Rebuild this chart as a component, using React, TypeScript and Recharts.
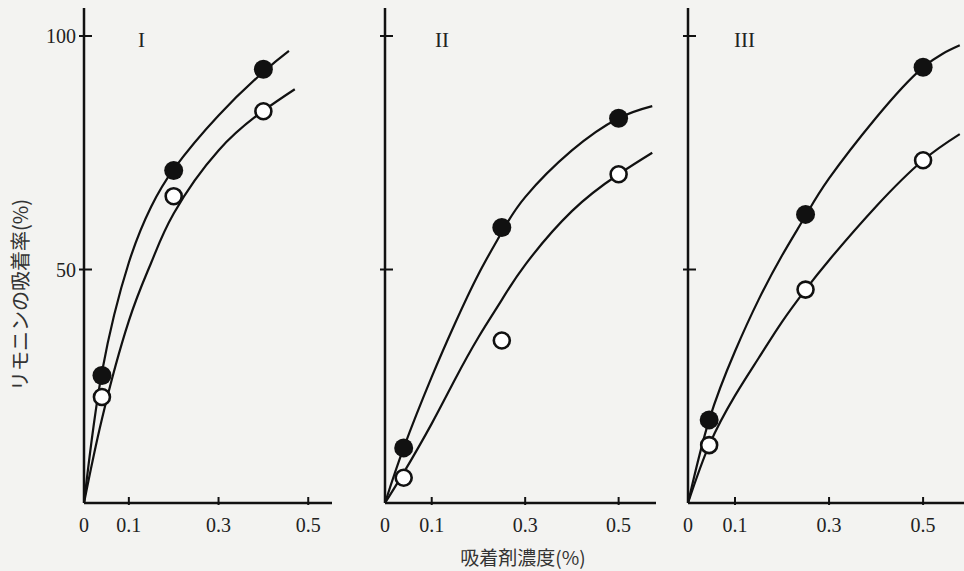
import { ComposedChart, Line, Scatter, XAxis, YAxis } from 'recharts';

// measured points (x = adsorbent %, y = limonin adsorption %)
const doseI = [0.04, 0.2, 0.4];
const filledI = [27.3, 71.2, 92.9];
const openI = [22.7, 65.7, 83.9];

const doseII = [0.04, 0.25, 0.5];
const filledII = [11.8, 59.0, 82.4];
const openII = [5.4, 34.8, 70.4];

const doseIII = [0.045, 0.25, 0.5];
const filledIII = [17.8, 61.8, 93.3];
const openIII = [12.4, 45.7, 73.4];

// fitted curves
const curveXI = [0, 0.04, 0.1, 0.15, 0.2, 0.3, 0.4, 0.457];
const curveFilledI = [0, 28, 51.5, 63.5, 71.5, 83, 92.3, 96.8];
const curveXI2 = [0, 0.04, 0.1, 0.15, 0.2, 0.3, 0.4, 0.47];
const curveOpenI = [0, 18, 39, 51.5, 62, 75.5, 84, 88.6];

const curveXII = [0, 0.04, 0.1, 0.15, 0.2, 0.25, 0.3, 0.4, 0.5, 0.572];
const curveFilledII = [0, 11.8, 27, 38.5, 49, 58, 65.5, 75.5, 82.4, 85];
const curveOpenII = [0, 6.5, 17, 26.5, 35.5, 43.5, 51, 62.5, 70.4, 75];

const curveXIII = [0, 0.045, 0.1, 0.15, 0.2, 0.25, 0.3, 0.4, 0.5, 0.578];
const curveFilledIII = [0, 17.8, 32.5, 43.5, 53, 61.5, 69.5, 82.5, 93.3, 98];
const curveOpenIII = [0, 12.4, 23, 31, 38.8, 45.7, 52, 63.5, 73.4, 79];

const xTicks = [0, 0.1, 0.3, 0.5];
const yTicks = [50, 100];
const panelNames = ['I', 'II', 'III'];

const pairs = (xs: number[], ys: number[]) => xs.map((x, i) => ({ x, y: ys[i] }));

const SERIF = '"Liberation Serif", "DejaVu Serif", serif';
const INK = '#111';

const FilledDot = (p: any) => <circle cx={p.cx} cy={p.cy} r={9.5} fill={INK} />;
const OpenDot = (p: any) => (
  <circle cx={p.cx} cy={p.cy} r={8} fill="#fff" stroke={INK} strokeWidth={2.6} />
);

function XTick(props: any) {
  const { x, y, payload } = props;
  return (
    <g>
      {payload.value !== 0 && <line x1={x} y1={y} x2={x} y2={y - 8} stroke={INK} strokeWidth={2} />}
      <text x={x} y={y + 27} textAnchor="middle" fontFamily={SERIF} fontSize={20} fill="#222">
        {String(payload.value)}
      </text>
    </g>
  );
}

function makeYTick(showLabel: boolean) {
  return (props: any) => {
    const { x, y, payload } = props;
    return (
      <g>
        <line x1={x - 3} y1={y} x2={x + 10} y2={y} stroke={INK} strokeWidth={2} />
        {showLabel && (
          <text x={x - 6} y={y + 7} textAnchor="end" fontFamily={SERIF} fontSize={20} fill="#222">
            {payload.value}
          </text>
        )}
      </g>
    );
  };
}

interface PanelProps {
  left: number;
  width: number;
  yAxisWidth: number;
  xMax: number;
  dose: number[];
  filled: number[];
  open: number[];
  fxFilled: number[];
  fyFilled: number[];
  fxOpen: number[];
  fyOpen: number[];
  showYLabels: boolean;
}

function Panel(p: PanelProps) {
  return (
    <div style={{ position: 'absolute', left: p.left, top: 0 }}>
      <ComposedChart width={p.width} height={571} margin={{ top: 8, right: 0, bottom: 0, left: 0 }}>
        <XAxis
          type="number"
          dataKey="x"
          domain={[0, p.xMax]}
          ticks={xTicks}
          allowDataOverflow
          axisLine={{ stroke: INK, strokeWidth: 2.5 }}
          tickLine={false}
          tickSize={0}
          tick={<XTick />}
          height={68}
        />
        <YAxis
          type="number"
          dataKey="y"
          domain={[0, 106]}
          ticks={yTicks}
          allowDataOverflow
          width={p.yAxisWidth}
          axisLine={{ stroke: INK, strokeWidth: 2.5 }}
          tickLine={false}
          tickSize={0}
          tick={makeYTick(p.showYLabels)}
        />
        <Line
          data={pairs(p.fxFilled, p.fyFilled)}
          dataKey="y"
          type="natural"
          stroke={INK}
          strokeWidth={2.2}
          dot={false}
          isAnimationActive={false}
        />
        <Line
          data={pairs(p.fxOpen, p.fyOpen)}
          dataKey="y"
          type="natural"
          stroke={INK}
          strokeWidth={2.2}
          dot={false}
          isAnimationActive={false}
        />
        <Scatter data={pairs(p.dose, p.filled)} shape={<FilledDot />} isAnimationActive={false} />
        <Scatter data={pairs(p.dose, p.open)} shape={<OpenDot />} isAnimationActive={false} />
      </ComposedChart>
    </div>
  );
}

export default function App() {
  return (
    <div
      style={{
        position: 'absolute',
        left: 0,
        top: 0,
        width: 964,
        height: 571,
        background: '#f3f3f1',
        overflow: 'hidden',
      }}
    >
      <Panel left={0} width={332} yAxisWidth={84} xMax={0.553} dose={doseI} filled={filledI} open={openI}
        fxFilled={curveXI} fyFilled={curveFilledI} fxOpen={curveXI2} fyOpen={curveOpenI} showYLabels />
      <Panel left={340} width={316} yAxisWidth={45} xMax={0.58} dose={doseII} filled={filledII} open={openII}
        fxFilled={curveXII} fyFilled={curveFilledII} fxOpen={curveXII} fyOpen={curveOpenII} showYLabels={false} />
      <Panel left={643} width={321} yAxisWidth={45} xMax={0.587} dose={doseIII} filled={filledIII} open={openIII}
        fxFilled={curveXIII} fyFilled={curveFilledIII} fxOpen={curveXIII} fyOpen={curveOpenIII} showYLabels={false} />

      {panelNames.map((name, i) => (
        <div
          key={name}
          style={{
            position: 'absolute',
            left: [138, 435, 734][i],
            top: 28,
            fontFamily: SERIF,
            fontSize: 21,
            color: '#222',
          }}
        >
          {name}
        </div>
      ))}

      <div
        style={{
          position: 'absolute',
          left: 19,
          top: 295,
          transform: 'translate(-50%, -50%) rotate(-90deg)',
          whiteSpace: 'nowrap',
          fontFamily: '"Noto Sans CJK JP", sans-serif',
          fontSize: 20,
          color: '#333',
        }}
      >
        リモニンの吸着率(%)
      </div>
      <div
        style={{
          position: 'absolute',
          left: 523,
          top: 556,
          transform: 'translate(-50%, -50%)',
          whiteSpace: 'nowrap',
          fontFamily: '"Noto Sans CJK JP", sans-serif',
          fontSize: 19,
          color: '#333',
        }}
      >
        吸着剤濃度(%)
      </div>
    </div>
  );
}
